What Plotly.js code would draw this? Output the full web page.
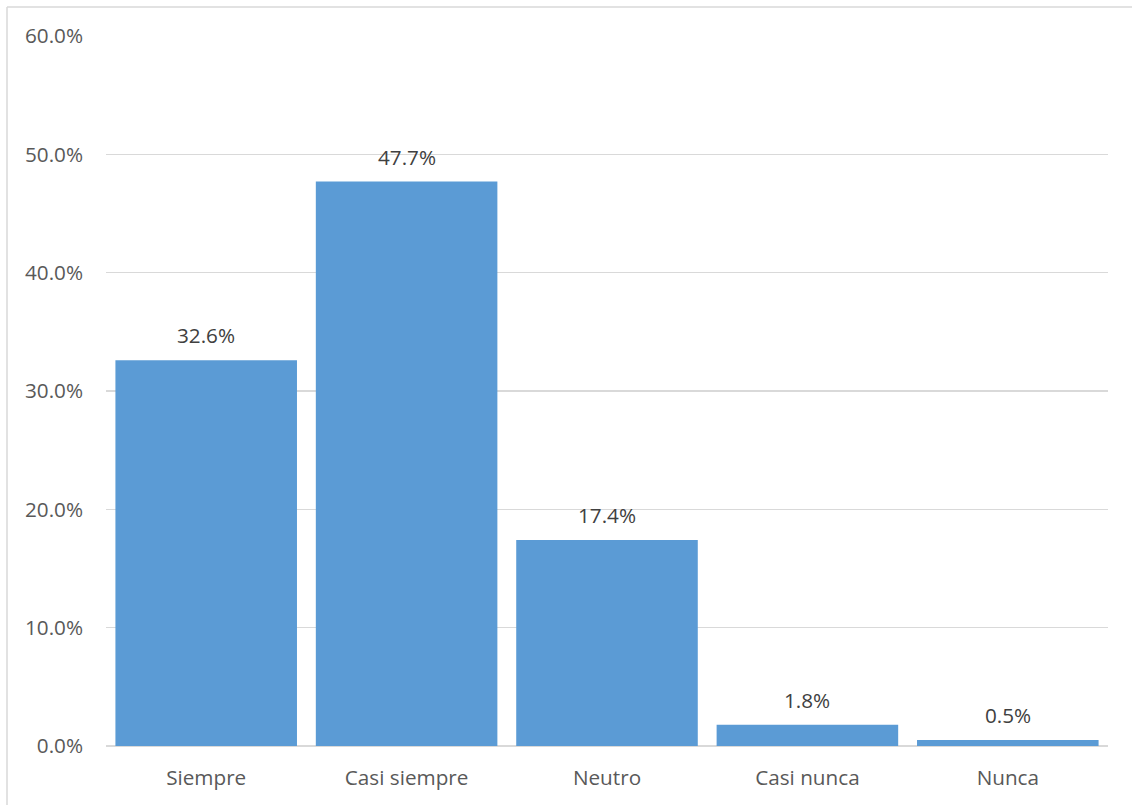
<!DOCTYPE html>
<html>
<head>
<meta charset="utf-8">
<script src="https://cdn.plot.ly/plotly-3.0.1.min.js"></script>
<style>html,body{margin:0;padding:0;background:#fff;}#chart{width:1132px;height:805px;}</style>
</head>
<body>
<div id="chart"></div>
<script>
const categories = ["Siempre", "Casi siempre", "Neutro", "Casi nunca", "Nunca"];
const values = [32.6, 47.7, 17.4, 1.8, 0.5];
const tickVals = [0, 10, 20, 30, 40, 50, 60];
const tickText = ["0.0%", "10.0%", "20.0%", "30.0%", "40.0%", "50.0%", "60.0%"];

const W = 1132, H = 805;
const m = {l: 106, r: 24, t: 36, b: 59};
const pw = W - m.l - m.r, ph = H - m.t - m.b;
const fontFam = "'Open Sans', 'Noto Sans', sans-serif";
const fs = 20.7;

const trace = {
  type: 'bar',
  x: categories,
  y: values,
  marker: {color: '#5B9BD5'},
  hoverinfo: 'none'
};

const annotations = categories.map((c, i) => ({
  x: c, y: values[i], xref: 'x', yref: 'y',
  text: values[i].toFixed(1) + '%',
  showarrow: false, yanchor: 'bottom', yshift: 9,
  font: {family: fontFam, size: fs, color: '#404040'}
}));

// outer frame
const fx0 = (7 - m.l) / pw, fy1 = 1 + (m.t - 7) / ph;
const shapes = [
  {type: 'line', xref: 'paper', yref: 'paper', x0: fx0, x1: fx0, y0: -1, y1: fy1, line: {color: '#D9D9D9', width: 1.5}},
  {type: 'line', xref: 'paper', yref: 'paper', x0: fx0, x1: 1.1, y0: fy1, y1: fy1, line: {color: '#D9D9D9', width: 1.5}}
];

const layout = {
  width: W, height: H,
  margin: m,
  paper_bgcolor: '#fff', plot_bgcolor: '#fff',
  bargap: 0.094,
  showlegend: false,
  font: {family: fontFam, size: fs, color: '#595959'},
  xaxis: {
    type: 'category', showgrid: false, zeroline: false, showline: false,
    ticks: '', ticklabelstandoff: 17,
    tickfont: {family: fontFam, size: fs, color: '#595959'}
  },
  yaxis: {
    range: [0, 60], tickvals: tickVals, ticktext: tickText,
    showgrid: true, gridcolor: '#D9D9D9', gridwidth: 1.3,
    zeroline: true, zerolinecolor: '#D9D9D9', zerolinewidth: 2,
    showline: false, ticks: '', ticklabelstandoff: 22,
    tickfont: {family: fontFam, size: fs, color: '#595959'}
  },
  annotations: annotations,
  shapes: shapes
};

Plotly.newPlot('chart', [trace], layout, {displayModeBar: false, staticPlot: true});
</script>
</body>
</html>
